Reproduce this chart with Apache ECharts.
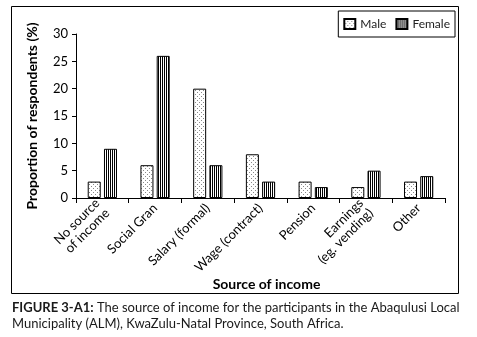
<!DOCTYPE html>
<html>
<head>
<meta charset="utf-8">
<script src="https://cdn.jsdelivr.net/npm/echarts@6/dist/echarts.min.js"></script>
<style>
  html, body { margin: 0; padding: 0; background: #fff; }
  #chart { width: 477px; height: 337px; }
</style>
</head>
<body>
<div id="chart"></div>
<script>
const categories = ['No source\nof income', 'Social Gran', 'Salary (formal)', 'Wage (contract)', 'Pension', 'Earnings\n(eg. vending)', 'Other'];
const male = [3, 6, 20, 8, 3, 2, 3];
const female = [9, 26, 6, 3, 2, 5, 4];
const yTicks = { min: 0, max: 30, interval: 5 };

const FONT = 'Lato';

// dotted fill for Male
function dotPattern() {
    const c = document.createElement('canvas');
    c.width = 4; c.height = 4;
    const ctx = c.getContext('2d');
    ctx.fillStyle = '#fff';
    ctx.fillRect(0, 0, 4, 4);
    ctx.fillStyle = '#888';
    ctx.fillRect(1, 0, 1, 1);
    ctx.fillRect(3, 2, 1, 1);
    return c;
}

// vertical stripes for Female
function stripePattern() {
    const c = document.createElement('canvas');
    c.width = 2; c.height = 2;
    const ctx = c.getContext('2d');
    ctx.fillStyle = '#fff';
    ctx.fillRect(0, 0, 2, 2);
    ctx.fillStyle = '#000';
    ctx.fillRect(0, 0, 1, 2);
    return c;
}

const chart = echarts.init(document.getElementById('chart'), null, { renderer: 'canvas' });

const option = {
    animation: false,
    textStyle: { fontFamily: FONT, color: '#000' },
    grid: { left: 76, right: 32, top: 34, bottom: 139 },
    legend: {
        data: ['Male', 'Female'],
        right: 22,
        top: 11,
        icon: 'rect',
        orient: 'horizontal',
        borderColor: '#000',
        borderWidth: 1,
        borderRadius: 0,
        padding: [7, 5, 7, 5],
        itemGap: 9,
        itemWidth: 11,
        itemHeight: 10,
        textStyle: { fontFamily: FONT, fontSize: 12, color: '#222' }
    },
    xAxis: {
        type: 'category',
        data: categories,
        name: 'Source of income',
        nameLocation: 'middle',
        nameGap: 77,
        nameTextStyle: { fontFamily: FONT, fontSize: 14, fontWeight: 'bold', color: '#000', padding: [0, 0, 0, 12] },
        axisLine: { lineStyle: { color: '#000', width: 1 } },
        axisTick: { show: true, length: 5, lineStyle: { color: '#000' } },
        axisLabel: {
            rotate: 45,
            margin: 8,
            fontSize: 13,
            fontFamily: FONT,
            color: '#000',
            interval: 0,
            lineHeight: 14
        }
    },
    yAxis: {
        type: 'value',
        min: yTicks.min,
        max: yTicks.max,
        interval: yTicks.interval,
        name: 'Proportion of respondents (%)',
        nameLocation: 'middle',
        nameGap: 37,
        nameTextStyle: { fontFamily: FONT, fontSize: 14, fontWeight: 'bold', color: '#000' },
        axisLine: { show: true, lineStyle: { color: '#000', width: 1 } },
        axisTick: { show: true, length: 4, lineStyle: { color: '#000' } },
        splitLine: { show: false },
        axisLabel: { fontSize: 13, fontFamily: FONT, color: '#000', margin: 8 }
    },
    series: [
        {
            name: 'Male',
            type: 'bar',
            data: male,
            barWidth: 13,
            barGap: '25%',
            itemStyle: {
                color: { image: dotPattern(), repeat: 'repeat' },
                borderColor: '#000',
                borderWidth: 1
            }
        },
        {
            name: 'Female',
            type: 'bar',
            data: female,
            barWidth: 13,
            barGap: '25%',
            itemStyle: {
                color: { image: stripePattern(), repeat: 'repeat' },
                borderColor: '#000',
                borderWidth: 1
            }
        }
    ],
    graphic: [
        {
            type: 'rect',
            shape: { x: 11.5, y: 6.5, width: 447, height: 287 },
            style: { fill: 'none', stroke: '#000', lineWidth: 1 },
            silent: true,
            z: -1
        },
        {
            type: 'text',
            left: 12,
            top: 300,
            style: {
                text: '{b|FIGURE 3-A1:} The source of income for the participants in the Abaqulusi Local\nMunicipality (ALM), KwaZulu-Natal Province, South Africa.',
                fontFamily: FONT,
                fontSize: 13,
                lineHeight: 16,
                fill: '#1a1a1a',
                rich: {
                    b: { fontFamily: FONT, fontSize: 13, fontWeight: 'bold', fill: '#1a1a1a' }
                }
            }
        }
    ]
};

chart.setOption(option);
</script>
</body>
</html>
